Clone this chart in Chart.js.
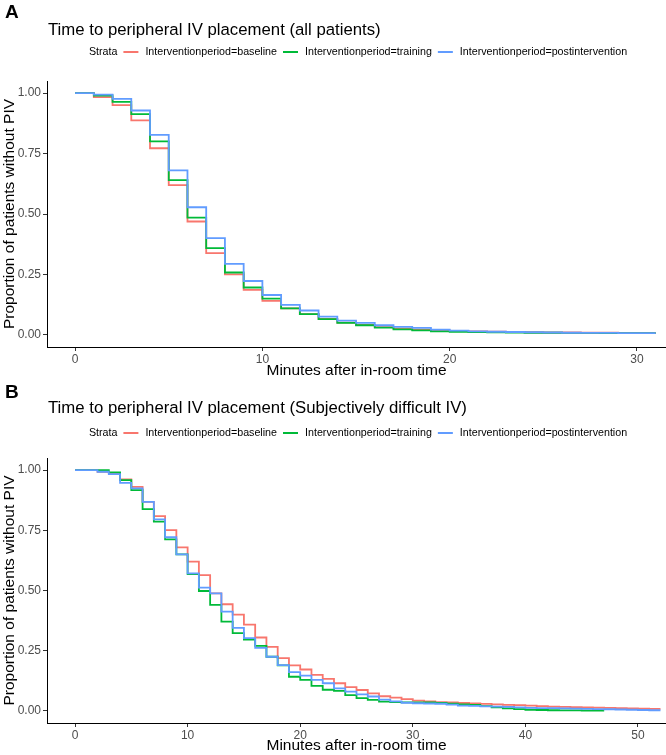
<!DOCTYPE html>
<html>
<head>
<meta charset="utf-8">
<script src="https://cdn.jsdelivr.net/npm/chart.js@4.4.1/dist/chart.umd.min.js"></script>
<style>
  body { margin: 0; background: #fff; width: 666px; height: 755px; overflow: hidden; }
  canvas { display: block; }
</style>
</head>
<body>
<canvas id="chartA" width="666" height="380"></canvas>
<canvas id="chartB" width="666" height="375"></canvas>
<script>
// strata labels and colours (ggplot default hues)
const strata = ['Interventionperiod=baseline', 'Interventionperiod=training', 'Interventionperiod=postintervention'];
const strataColors = ['#F8766D', '#00BA38', '#619CFF'];

// Panel A: all patients, survival at each minute (value holds until next minute)
const timesA = [0,1,2,3,4,5,6,7,8,9,10,11,12,13,14,15,16,17,18,19,20,21,22,23,24,25,26,27,28,29,30,31];
const baselineA = [1.0, 0.983, 0.950, 0.887, 0.772, 0.619, 0.469, 0.338, 0.250, 0.186, 0.141, 0.110, 0.086, 0.066, 0.051, 0.041, 0.032, 0.026, 0.022, 0.019, 0.016, 0.014, 0.013, 0.012, 0.011, 0.010, 0.010, 0.009, 0.009, 0.008, 0.008, 0.008];
const trainingA = [1.0, 0.990, 0.964, 0.913, 0.800, 0.640, 0.485, 0.359, 0.258, 0.196, 0.150, 0.110, 0.086, 0.065, 0.050, 0.040, 0.030, 0.023, 0.019, 0.015, 0.013, 0.012, 0.011, 0.010, 0.009, 0.009, 0.008, 0.008, 0.007, 0.007, 0.007, 0.007];
const postA = [1.0, 0.994, 0.976, 0.928, 0.827, 0.680, 0.528, 0.400, 0.294, 0.223, 0.165, 0.124, 0.101, 0.076, 0.059, 0.050, 0.040, 0.033, 0.029, 0.022, 0.018, 0.015, 0.013, 0.012, 0.011, 0.010, 0.009, 0.008, 0.008, 0.007, 0.007, 0.007];

// Panel B: subjectively difficult IV
const timesB = [0,1,2,3,4,5,6,7,8,9,10,11,12,13,14,15,16,17,18,19,20,21,22,23,24,25,26,27,28,29,30,31,32,33,34,35,36,37,38,39,40,41,42,43,44,45,46,47,48,49,50,51,52];
const baselineB = [1.0, 1.0, 0.993, 0.986, 0.961, 0.930, 0.868, 0.809, 0.751, 0.679, 0.620, 0.564, 0.488, 0.443, 0.400, 0.358, 0.305, 0.266, 0.219, 0.189, 0.172, 0.150, 0.133, 0.115, 0.099, 0.087, 0.073, 0.061, 0.055, 0.049, 0.043, 0.040, 0.037, 0.035, 0.033, 0.031, 0.029, 0.027, 0.025, 0.024, 0.022, 0.020, 0.018, 0.017, 0.016, 0.015, 0.014, 0.013, 0.012, 0.011, 0.010, 0.009, 0.009];
const trainingB = [1.0, 1.0, 1.0, 0.990, 0.958, 0.917, 0.838, 0.786, 0.712, 0.650, 0.568, 0.498, 0.440, 0.371, 0.323, 0.296, 0.270, 0.225, 0.189, 0.142, 0.129, 0.104, 0.088, 0.083, 0.066, 0.053, 0.046, 0.039, 0.037, 0.036, 0.036, 0.035, 0.033, 0.030, 0.027, 0.025, 0.020, 0.015, 0.011, 0.008, 0.005, 0.004, 0.003, 0.002, 0.002, 0.001, 0.001, 0.001];
const postB = [1.0, 1.0, 0.993, 0.983, 0.947, 0.924, 0.868, 0.795, 0.721, 0.650, 0.571, 0.512, 0.488, 0.412, 0.345, 0.302, 0.262, 0.225, 0.190, 0.161, 0.147, 0.129, 0.115, 0.094, 0.080, 0.069, 0.060, 0.047, 0.040, 0.034, 0.032, 0.031, 0.030, 0.026, 0.022, 0.021, 0.019, 0.018, 0.017, 0.015, 0.013, 0.012, 0.012, 0.011, 0.010, 0.009, 0.008, 0.007, 0.006, 0.005, 0.004, 0.003, 0.003];

const yTicks = [0, 0.25, 0.5, 0.75, 1];
const xTicksA = [0, 10, 20, 30];
const xTicksB = [0, 10, 20, 30, 40, 50];

const FONT = '"Liberation Sans", Arial, sans-serif';

// letter, title and the strata legend on top of each panel
const headerPlugin = {
  id: 'header',
  afterDraw(chart, args, opts) {
    const ctx = chart.ctx;
    ctx.save();
    ctx.textBaseline = 'middle';
    ctx.fillStyle = '#000';
    ctx.font = 'bold 19px ' + FONT;
    ctx.fillText(opts.letter, 5, opts.letterY);
    ctx.font = '16.75px ' + FONT;
    ctx.fillText(opts.title, 48, opts.titleY);

    // legend, centred over the panel
    ctx.font = '10.7px ' + FONT;
    const lineLen = 15, gapIn = 7, gapOut = 6;
    let total = ctx.measureText('Strata').width;
    strata.forEach(s => { total += gapOut + lineLen + gapIn + ctx.measureText(s).width; });
    let x = 358 - total / 2;
    const y = opts.legendY;
    ctx.fillText('Strata', x, y);
    x += ctx.measureText('Strata').width + gapOut;
    strata.forEach((s, i) => {
      ctx.strokeStyle = strataColors[i];
      ctx.lineWidth = 2;
      ctx.beginPath();
      ctx.moveTo(x, y);
      ctx.lineTo(x + lineLen, y);
      ctx.stroke();
      x += lineLen + gapIn;
      ctx.fillStyle = '#000';
      ctx.fillText(s, x, y);
      x += ctx.measureText(s).width + gapOut;
    });
    ctx.restore();
  }
};

function steps(times, vals) {
  return vals.map((v, i) => ({ x: times[i], y: v }));
}

function makeChart(id, times, series, xTicks, xMin, xMax, hdr) {
  // postintervention on top, then training, then baseline
  const datasets = series.map((vals, i) => ({
    label: strata[i],
    data: steps(times, vals),
    borderColor: strataColors[i],
    borderWidth: 1.8,
    pointRadius: 0,
    stepped: 'before',
    fill: false,
    order: 2 - i
  }));
  return new Chart(document.getElementById(id), {
    type: 'line',
    data: { datasets },
    plugins: [headerPlugin],
    options: {
      responsive: false,
      animation: false,
      devicePixelRatio: 1,
      layout: { padding: { top: hdr.top, left: 0, right: 0, bottom: 0 } },
      plugins: {
        legend: { display: false },
        tooltip: { enabled: false },
        header: hdr
      },
      scales: {
        x: {
          type: 'linear',
          min: xMin,
          max: xMax,
          afterBuildTicks: s => { s.ticks = xTicks.map(v => ({ value: v })); },
          afterFit: s => { s.height = hdr.xh; },
          grid: { drawOnChartArea: false, drawTicks: true, tickLength: 4, color: '#333' },
          border: { display: true, color: '#000', width: 1 },
          ticks: { color: '#4d4d4d', font: { family: FONT, size: 12 }, padding: 1, maxRotation: 0, autoSkip: false },
          title: { display: true, text: 'Minutes after in-room time', color: '#000', font: { family: FONT, size: 15.5 }, padding: { top: 0, bottom: 0 } }
        },
        y: {
          min: -0.05,
          max: 1.05,
          afterBuildTicks: s => { s.ticks = yTicks.map(v => ({ value: v })); },
          afterFit: s => { s.width = 47; },
          grid: { drawOnChartArea: false, drawTicks: true, tickLength: 4, color: '#333' },
          border: { display: true, color: '#000', width: 1 },
          ticks: { color: '#4d4d4d', font: { family: FONT, size: 12 }, padding: 2, callback: v => v.toFixed(2) },
          title: { display: true, text: 'Proportion of patients without PIV', color: '#000', font: { family: FONT, size: 15.5 }, padding: { top: 0, bottom: 0 } }
        }
      }
    }
  });
}

makeChart('chartA', timesA, [baselineA, trainingA, postA], xTicksA, -1.5, 31.55,
  { letter: 'A', title: 'Time to peripheral IV placement (all patients)', letterY: 13, titleY: 30, legendY: 52, top: 81, xh: 33 });
makeChart('chartB', timesB, [baselineB, trainingB, postB], xTicksB, -2.49, 52.49,
  { letter: 'B', title: 'Time to peripheral IV placement (Subjectively difficult IV)', letterY: 13, titleY: 28, legendY: 53, top: 78, xh: 32 });
</script>
</body>
</html>
